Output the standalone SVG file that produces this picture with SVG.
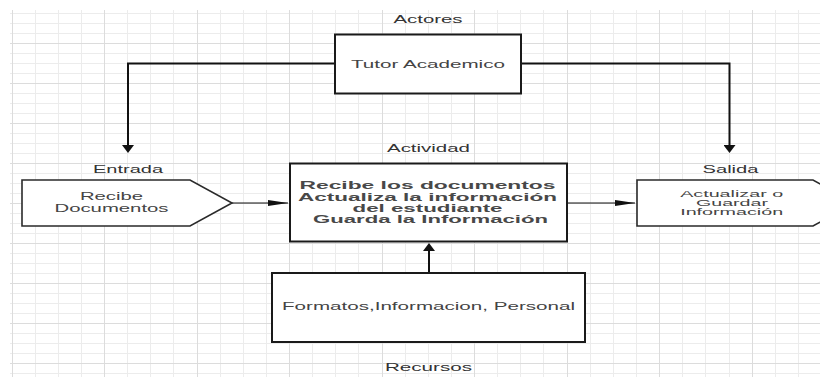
<svg xmlns="http://www.w3.org/2000/svg" width="820" height="377" viewBox="0 0 820 377">
<defs>
<style>
.gl{stroke:#ececec;stroke-width:1;fill:none}
.gd{stroke:#dcdcdc;stroke-width:1;fill:none}
.box{fill:#fff;stroke:#1a1a1a;stroke-width:2}
.shp{fill:#fff;stroke:#2a2a2a;stroke-width:1.6}
.lbl{font-family:"Liberation Sans",Arial,sans-serif;font-size:11px;fill:#333}
.txt{font-family:"Liberation Sans",Arial,sans-serif;font-size:11px;fill:#444}
.act{font-family:"Liberation Sans",Arial,sans-serif;font-size:11px;font-weight:bold;fill:#484848}
.sm{font-family:"Liberation Sans",Arial,sans-serif;font-size:9px;fill:#444}
.thick{fill:none;stroke:#111;stroke-width:2}
.thin{fill:none;stroke:#111;stroke-width:1}
</style>
<marker id="big" viewBox="0 0 8 12" markerWidth="8" markerHeight="12" refX="2" refY="6" orient="auto" markerUnits="userSpaceOnUse">
<path d="M0,0 L8,6 L0,12 Z" fill="#111"/>
</marker>
<marker id="small" viewBox="0 0 20 6" markerWidth="20" markerHeight="6" refX="20" refY="3" orient="auto" markerUnits="userSpaceOnUse">
<path d="M0,0 L20,3 L0,6 Z" fill="#111"/>
</marker>
</defs>
<rect width="820" height="377" fill="#fff"/>
<g id="grid">
<path class="gl" d="M35.5,10V377M58.5,10V377M81.5,10V377M127.5,10V377M150.5,10V377M173.5,10V377M220.5,10V377M243.5,10V377M266.5,10V377M312.5,10V377M335.5,10V377M358.5,10V377M405.5,10V377M428.5,10V377M451.5,10V377M497.5,10V377M520.5,10V377M543.5,10V377M590.5,10V377M613.5,10V377M636.5,10V377M682.5,10V377M705.5,10V377M729.5,10V377M775.5,10V377M798.5,10V377"/>
<path class="gl" d="M10,13.5H820M10,23.5H820M10,33.5H820M10,53.5H820M10,63.5H820M10,73.5H820M10,93.5H820M10,103.5H820M10,113.5H820M10,133.5H820M10,143.5H820M10,153.5H820M10,173.5H820M10,183.5H820M10,193.5H820M10,213.5H820M10,223.5H820M10,233.5H820M10,253.5H820M10,263.5H820M10,273.5H820M10,293.5H820M10,303.5H820M10,313.5H820M10,333.5H820M10,343.5H820M10,353.5H820M10,373.5H820"/>
<path class="gd" d="M12.5,10V377M104.5,10V377M197.5,10V377M289.5,10V377M382.5,10V377M474.5,10V377M567.5,10V377M659.5,10V377M752.5,10V377"/>
<path class="gd" d="M10,43.5H820M10,83.5H820M10,123.5H820M10,163.5H820M10,203.5H820M10,243.5H820M10,283.5H820M10,323.5H820M10,363.5H820"/>
</g>
<g id="labels">
<text class="lbl" x="428" y="23" text-anchor="middle" textLength="69" lengthAdjust="spacingAndGlyphs">Actores</text>
<text class="lbl" x="128" y="172.5" text-anchor="middle" textLength="70" lengthAdjust="spacingAndGlyphs">Entrada</text>
<text class="lbl" x="428.5" y="152" text-anchor="middle" textLength="83" lengthAdjust="spacingAndGlyphs">Actividad</text>
<text class="lbl" x="730.5" y="172.5" text-anchor="middle" textLength="56" lengthAdjust="spacingAndGlyphs">Salida</text>
<text class="lbl" x="428.5" y="370.5" text-anchor="middle" textLength="87" lengthAdjust="spacingAndGlyphs">Recursos</text>
</g>
<g id="connectors">
<path class="thick" d="M335,63.5 H128 V147" marker-end="url(#big)"/>
<path class="thick" d="M521,63.5 H729.5 V147" marker-end="url(#big)"/>
<path class="thin" d="M232,203 H288" marker-end="url(#small)"/>
<path class="thin" d="M567,203 H635" marker-end="url(#small)"/>
<path class="thick" d="M429,273 V249" marker-end="url(#big)"/>
</g>
<g id="tutor">
<rect class="box" x="335" y="34.5" width="186" height="59"/>
<text class="txt" x="428" y="67.5" text-anchor="middle" textLength="154" lengthAdjust="spacingAndGlyphs">Tutor Academico</text>
</g>
<g id="entrada">
<polygon class="shp" points="22,180 190,180 232,203 190,226 22,226"/>
<text class="txt" x="111.5" y="200" text-anchor="middle" textLength="63" lengthAdjust="spacingAndGlyphs">Recibe</text>
<text class="txt" x="111.5" y="211.5" text-anchor="middle" textLength="114" lengthAdjust="spacingAndGlyphs">Documentos</text>
</g>
<g id="actividad">
<rect class="box" x="290" y="163.5" width="277" height="78"/>
<text class="act" x="427.5" y="189" text-anchor="middle" textLength="256" lengthAdjust="spacingAndGlyphs">Recibe los documentos</text>
<text class="act" x="427.5" y="200.5" text-anchor="middle" textLength="259" lengthAdjust="spacingAndGlyphs">Actualiza la información</text>
<text class="act" x="427.5" y="211.7" text-anchor="middle" textLength="150" lengthAdjust="spacingAndGlyphs">del estudiante</text>
<text class="act" x="430.5" y="223.3" text-anchor="middle" textLength="235" lengthAdjust="spacingAndGlyphs">Guarda la Información</text>
</g>
<g id="salida">
<polygon class="shp" points="637,180 813,180 855,203 813,226 637,226"/>
<text class="sm" x="731.7" y="196.5" text-anchor="middle" textLength="103" lengthAdjust="spacingAndGlyphs">Actualizar o</text>
<text class="sm" x="732" y="205.8" text-anchor="middle" textLength="72" lengthAdjust="spacingAndGlyphs">Guardar</text>
<text class="sm" x="731.7" y="215" text-anchor="middle" textLength="103" lengthAdjust="spacingAndGlyphs">Información</text>
</g>
<g id="recursos">
<rect class="box" x="272" y="273" width="313" height="69"/>
<text class="txt" x="428.5" y="310" text-anchor="middle" textLength="293" lengthAdjust="spacingAndGlyphs">Formatos,Informacion, Personal</text>
</g>
</svg>
